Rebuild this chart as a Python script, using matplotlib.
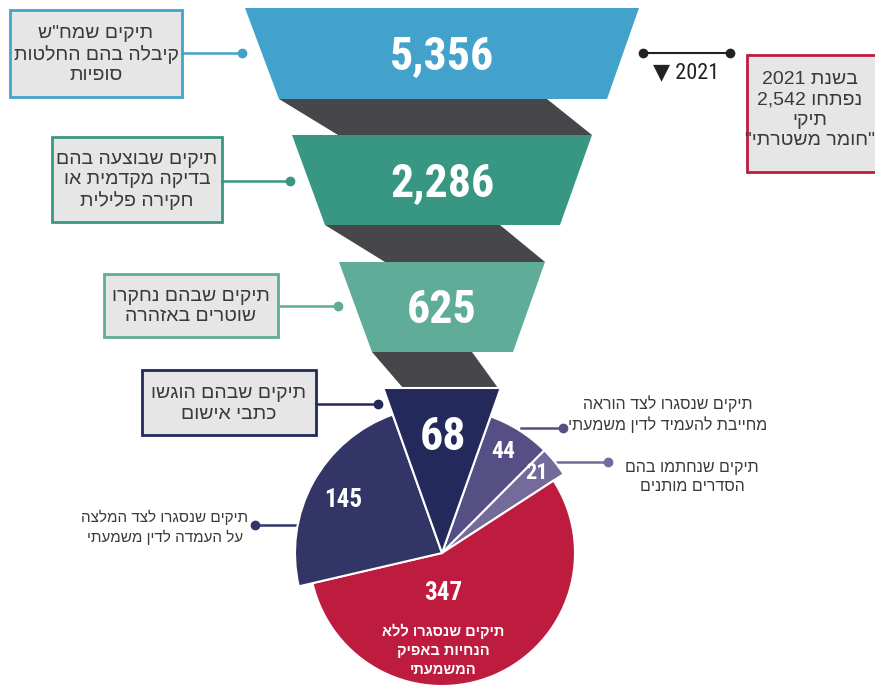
import re
import numpy as np
import matplotlib.pyplot as plt
from matplotlib import font_manager as fm
from matplotlib.patches import Polygon, Rectangle, Wedge

# funnel stages
funnel_values = ["5,356", "2,286", "625"]
funnel_labels = ['תיקים שמח"ש\nקיבלה בהם החלטות\nסופיות',
                 "תיקים שבוצעה בהם\nבדיקה מקדמית או\nחקירה פלילית",
                 "תיקים שבהם נחקרו\nשוטרים באזהרה"]
funnel_colors = ["#42a2cc", "#389783", "#5fac98"]

# outcome of the 625 cases (pie), clockwise from the top wedge
pie_values = [68, 44, 21, 347, 145]
pie_labels = ["תיקים שבהם הוגשו\nכתבי אישום",
              "תיקים שנסגרו לצד הוראה\nמחייבת להעמיד לדין משמעתי",
              "תיקים שנחתמו בהם\nהסדרים מותנים",
              "תיקים שנסגרו ללא\nהנחיות באפיק\nהמשמעתי",
              "תיקים שנסגרו לצד המלצה\nעל העמדה לדין משמעתי"]
pie_colors = ["#23295a", "#564f84", "#746b9a", "#be1c3f", "#333566"]
pie_radius = [None, 145, 145, 133, 147]

side_note = 'בשנת 2021\nנפתחו 2,542\nתיקי\n"חומר משטרתי"'
side_year = "▼ 2021"


def rtl(s):
    # visual order for matplotlib (no bidi support), keeps numbers LTR
    out = []
    for line in s.split("\n"):
        r = line[::-1]
        r = re.sub(r"[0-9][0-9,.]*[0-9]|[0-9]", lambda m: m.group(0)[::-1], r)
        out.append(r)
    return "\n".join(out)


names = {f.name for f in fm.fontManager.ttflist}
num_font = [f for f in ["Roboto Condensed", "Liberation Sans Narrow", "DejaVu Sans"] if f in names][:1] + ["DejaVu Sans"]
heb_font = [f for f in ["Liberation Sans", "DejaVu Sans"] if f in names][:1] + ["DejaVu Sans"]

fig = plt.figure(figsize=(8.75, 6.87), dpi=100)
ax = fig.add_axes([0, 0, 1, 1])
ax.set_xlim(0, 875)
ax.set_ylim(687, 0)
ax.axis("off")

gray = "#47474b"
txt = "#3a3a3a"

# funnel geometry (layout)
traps = [((245, 8), (639, 8), (607, 99), (279, 99)),
         ((292, 135), (592, 135), (560, 225), (325, 225)),
         ((339, 262), (545, 262), (513, 352), (372, 352))]
links = [((279, 99), (547, 99), (592, 135), (338, 135)),
         ((325, 225), (500, 225), (545, 262), (385, 262)),
         ((372, 352), (472, 352), (498, 388), (403, 388))]
for pts in links:
    ax.add_patch(Polygon(pts, closed=True, fc=gray, ec="none"))
for pts, col, val in zip(traps, funnel_colors, funnel_values):
    ax.add_patch(Polygon(pts, closed=True, fc=col, ec="none"))
    yc = (pts[0][1] + pts[2][1]) / 2
    ax.text(442, yc + 3, val, ha="center", va="center", color="white",
            fontsize=33, fontweight="bold", family=num_font)

# label boxes for funnel stages
boxes = [(10, 10, 172, 87, 53, 242), (52, 137, 170, 85, 181, 290), (104, 274, 174, 63, 306, 338)]
for (bx, by, bw, bh, ly, dx), col, lab in zip(boxes, funnel_colors, funnel_labels):
    ax.add_patch(Rectangle((bx, by), bw, bh, fc="#e6e6e6", ec=col, lw=2))
    ax.plot([bx + bw, dx], [ly, ly], color=col, lw=1.8)
    ax.plot(dx, ly, "o", color=col, ms=6)
    ax.text(bx + bw / 2, by + bh / 2 + 1, rtl(lab), ha="center", va="center", color=txt,
            fontsize=14, linespacing=1.25, family=heb_font)

# pie
cx, cy = 442, 553
total = sum(pie_values)
start = 90 + pie_values[0] / total * 180
angles = []
a = start
for v in pie_values:
    angles.append((a, a - v / total * 360))
    a -= v / total * 360

for i, ((a1, a2), v, col, r) in enumerate(zip(angles, pie_values, pie_colors, pie_radius)):
    if i == 0:
        ytop = 388
        h = cy - ytop
        xl = cx + h / np.tan(np.radians(a1))
        xr = cx + h / np.tan(np.radians(a2))
        ax.add_patch(Polygon([(cx, cy), (xl, ytop), (xr, ytop)], closed=True,
                             fc=col, ec="white", lw=1.5, zorder=3))
    else:
        ax.add_patch(Wedge((cx, cy), r, -a1, -a2, fc=col, ec="white", lw=1.5, zorder=2))

ax.text(443, 437, str(pie_values[0]), ha="center", va="center", color="white",
        fontsize=33, fontweight="bold", family=num_font, zorder=5)
ax.text(503, 452, str(pie_values[1]), ha="center", va="center", color="white",
        fontsize=17, fontweight="bold", family=num_font, zorder=5)
ax.text(537, 473, str(pie_values[2]), ha="center", va="center", color="white",
        fontsize=16, fontweight="bold", family=num_font, zorder=5)
ax.text(443, 593, str(pie_values[3]), ha="center", va="center", color="white",
        fontsize=18, fontweight="bold", family=num_font, zorder=5)
ax.text(343, 500, str(pie_values[4]), ha="center", va="center", color="white",
        fontsize=18, fontweight="bold", family=num_font, zorder=5)
ax.text(443, 650, rtl(pie_labels[3]), ha="center", va="center", color="white",
        fontsize=10.5, fontweight="bold", linespacing=1.45, family=heb_font, zorder=5)

# indictment box
ax.add_patch(Rectangle((142, 370), 174, 65, fc="#e6e6e6", ec=pie_colors[0], lw=2))
ax.plot([316, 378], [404, 404], color=pie_colors[0], lw=1.8)
ax.plot(378, 404, "o", color=pie_colors[0], ms=6)
ax.text(229, 404, rtl(pie_labels[0]), ha="center", va="center", color=txt,
        fontsize=14, linespacing=1.25, family=heb_font)

# outside pie labels
ax.plot([521, 563], [428, 428], color=pie_colors[1], lw=1.8, zorder=1)
ax.plot(563, 428, "o", color=pie_colors[1], ms=6)
ax.text(668, 414, rtl(pie_labels[1]), ha="center", va="center", color=txt,
        fontsize=11.5, linespacing=1.35, family=heb_font)
ax.plot([557, 608], [462, 462], color=pie_colors[2], lw=1.8, zorder=1)
ax.plot(608, 462, "o", color=pie_colors[2], ms=6)
ax.text(692, 477, rtl(pie_labels[2]), ha="center", va="center", color=txt,
        fontsize=11.5, linespacing=1.35, family=heb_font)
ax.plot([255, 298], [525, 525], color=pie_colors[4], lw=1.8, zorder=1)
ax.plot(255, 525, "o", color=pie_colors[4], ms=6)
ax.text(165, 527, rtl(pie_labels[4]), ha="center", va="center", color=txt,
        fontsize=11, linespacing=1.4, family=heb_font)

# side note
ax.plot([643, 730], [53, 53], color="#222222", lw=1.5)
ax.plot([643, 730], [53, 53], "o", color="#222222", ms=6)
ax.text(686, 73, side_year, ha="center", va="center", color="#222222", fontsize=16,
        family=num_font)
ax.add_patch(Rectangle((747, 55), 140, 117, fc="#e6e6e6", ec="#be1c3f", lw=2, clip_on=True))
ax.text(810, 110, rtl(side_note), ha="center", va="center", color=txt,
        fontsize=14, linespacing=1.25, family=heb_font)

fig.savefig("out.png", dpi=100)
